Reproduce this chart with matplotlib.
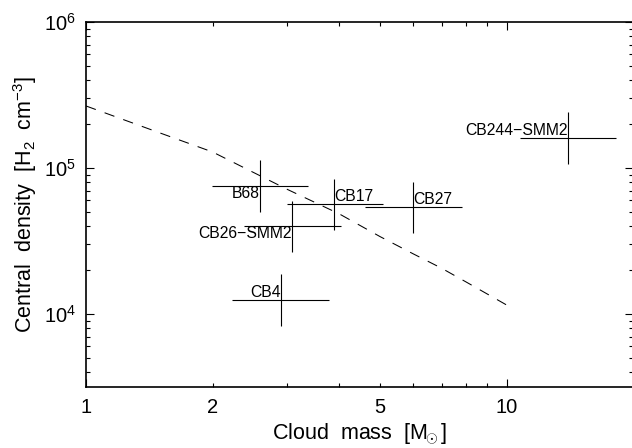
import numpy as np
import matplotlib
matplotlib.use("Agg")
import matplotlib.pyplot as plt
from matplotlib.ticker import LogLocator, FixedLocator, FuncFormatter, NullFormatter

plt.rcParams['font.family'] = ['Liberation Sans', 'DejaVu Sans']
plt.rcParams['mathtext.fontset'] = 'custom'
plt.rcParams['mathtext.rm'] = 'Liberation Sans'
plt.rcParams['mathtext.it'] = 'Liberation Sans:italic'
plt.rcParams['mathtext.bf'] = 'Liberation Sans:bold'

###############################################################################
# Data
###############################################################################
names = ["B68", "CB17", "CB27", "CB26\u2212SMM2", "CB4", "CB244\u2212SMM2"]
mass = [2.59, 3.89, 6.0, 3.09, 2.90, 14.0]
mass_lo = [1.99, 3.00, 4.60, 2.38, 2.22, 10.75]
mass_hi = [3.38, 5.07, 7.82, 4.03, 3.78, 18.2]
dens = [75700, 56400, 54100, 40100, 12470, 161300]
dens_lo = [50000, 37600, 36000, 26700, 8320, 106400]
dens_hi = [113500, 84100, 80500, 59700, 18800, 242000]

# label placement: (horizontal align, vertical align)
label_pos = [("right", "top"), ("left", "bottom"), ("left", "bottom"),
             ("right", "top"), ("right", "bottom"), ("right", "bottom")]

# dashed model curve
model_mass = [1.0, 1.5, 2.0, 3.0, 4.0, 5.0, 6.0, 7.0, 8.0, 10.0]
model_dens = [266000, 173700, 128700, 71700, 48500, 33900, 25800, 20600, 16600, 11520]

###############################################################################
# Plot
###############################################################################
fig = plt.figure(figsize=(6.32, 4.48), dpi=100)
ax = fig.add_axes([86 / 632, 61 / 448, 547.3 / 632, 365 / 448])
ax.set_xscale("log")
ax.set_yscale("log")

m = np.array(mass)
d = np.array(dens)
xerr = [m - np.array(mass_lo), np.array(mass_hi) - m]
yerr = [d - np.array(dens_lo), np.array(dens_hi) - d]
ax.errorbar(m, d, xerr=xerr, yerr=yerr, fmt="none", ecolor="black",
            elinewidth=0.8, capsize=0)

ax.plot(model_mass, model_dens, color="black", lw=0.75,
        linestyle=(0, (10, 9)))

for name, x, y, (ha, va) in zip(names, mass, dens, label_pos):
    ax.text(x, y, name, ha=ha, va=va, fontsize=11.3)

ax.set_xlim(1, 20)
ax.set_ylim(10 ** 3.5, 1e6)

ax.xaxis.set_major_locator(FixedLocator([1, 10]))
ax.xaxis.set_minor_locator(FixedLocator([2, 3, 4, 5, 6, 7, 8, 9]))
ax.xaxis.set_major_formatter(FuncFormatter(lambda v, p: "%d" % round(v)))
ax.xaxis.set_minor_formatter(
    FuncFormatter(lambda v, p: "%d" % round(v) if round(v) in (2, 5) else ""))

ax.yaxis.set_major_locator(LogLocator(base=10, numticks=10))
ax.yaxis.set_minor_locator(LogLocator(base=10, subs=np.arange(2, 10), numticks=10))
ax.yaxis.set_minor_formatter(NullFormatter())

ax.tick_params(which="both", direction="in", top=True, right=True,
               labelsize=14.5, width=0.8, color="black")
ax.tick_params(which="major", length=6)
ax.tick_params(which="minor", length=3)
ax.tick_params(axis="x", which="both", pad=8)
ax.tick_params(axis="y", which="both", pad=7)

for s in ax.spines.values():
    s.set_linewidth(1.2)

ax.set_xlabel(r"Cloud  mass  [M$_{\!\!\odot}$]", fontsize=15.5, labelpad=3)
ax.set_ylabel(r"Central  density  [H$_2$  cm$^{-3}$]", fontsize=15.5, labelpad=4)

fig.savefig("out.png", dpi=100)
